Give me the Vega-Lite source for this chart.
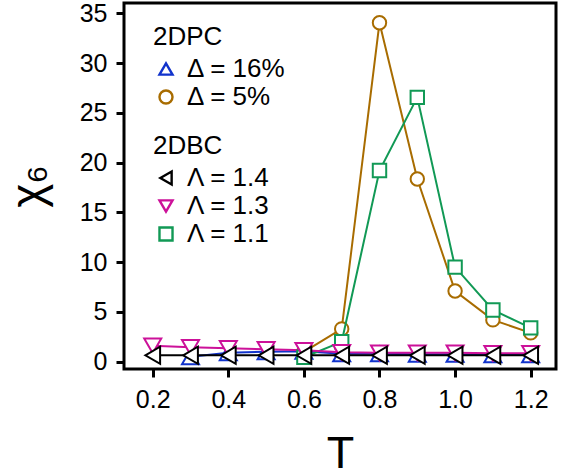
{
  "$schema": "https://vega.github.io/schema/vega-lite/v6.json",
  "autosize": "none",
  "width": 432,
  "height": 366,
  "padding": {"left": 124, "top": 3, "right": 7, "bottom": 107},
  "background": "white",
  "config": {
    "view": {"stroke": "black", "strokeWidth": 3},
    "font": "Liberation Sans",
    "axis": {
      "domain": false, "grid": false, "ticks": true, "tickColor": "black", "tickWidth": 3, "tickSize": 8,
      "labelFont": "Liberation Sans", "labelFontSize": 25, "labelColor": "black",
      "titleFont": "Liberation Sans", "titleFontWeight": "normal", "titleColor": "black"
    },
    "legend": {
      "titleFont": "Liberation Sans", "titleFontSize": 26, "titleFontWeight": "normal", "titleColor": "black",
      "labelFont": "Liberation Sans", "labelFontSize": 26, "labelColor": "black",
      "symbolStrokeWidth": 2.4, "symbolSize": 170, "symbolFillColor": "white", "rowPadding": 2, "labelOffset": 8, "titlePadding": 6, "padding": 0
    }
  },
  "encoding": {
    "x": {"field": "T", "type": "quantitative", "scale": {"domain": [0.124, 1.267], "nice": false, "zero": false},
      "axis": {"values": [0.2, 0.4, 0.6, 0.8, 1.0, 1.2], "format": ".1f", "title": "T", "titleFontSize": 45, "labelPadding": 10, "titlePadding": 19}},
    "y": {"field": "v", "type": "quantitative", "scale": {"domain": [-0.73, 36.03], "nice": false, "zero": false},
      "axis": {"values": [0, 5, 10, 15, 20, 25, 30, 35], "title": "χ₆", "titleFontSize": 46, "labelPadding": 9, "titlePadding": 27}}
  },
  "layer": [
    {
      "data": {"values": [
        {"T": 0.3, "v": 0.5, "s": "Δ = 16%"}, {"T": 0.4, "v": 0.9, "s": "Δ = 16%"}, {"T": 0.5, "v": 1.0, "s": "Δ = 16%"},
        {"T": 0.6, "v": 1.05, "s": "Δ = 16%"}, {"T": 0.7, "v": 0.8, "s": "Δ = 16%"}, {"T": 0.8, "v": 0.8, "s": "Δ = 16%"},
        {"T": 0.9, "v": 0.75, "s": "Δ = 16%"}, {"T": 1.0, "v": 0.75, "s": "Δ = 16%"}, {"T": 1.1, "v": 0.7, "s": "Δ = 16%"},
        {"T": 1.2, "v": 0.7, "s": "Δ = 16%"},
        {"T": 0.6, "v": 1.0, "s": "Δ = 5%"}, {"T": 0.7, "v": 3.3, "s": "Δ = 5%"}, {"T": 0.8, "v": 34.05, "s": "Δ = 5%"},
        {"T": 0.9, "v": 18.35, "s": "Δ = 5%"}, {"T": 1.0, "v": 7.1, "s": "Δ = 5%"}, {"T": 1.1, "v": 4.2, "s": "Δ = 5%"},
        {"T": 1.2, "v": 2.9, "s": "Δ = 5%"}
      ]},
      "encoding": {
        "stroke": {"field": "s", "type": "nominal", "scale": {"domain": ["Δ = 16%", "Δ = 5%"], "range": ["#1133cc", "#a86c00"]},
          "legend": {"title": "2DPC", "orient": "none", "legendX": 29, "legendY": 21}}
      },
      "layer": [
        {"mark": {"type": "line", "strokeWidth": 2}},
        {"transform": [{"filter": "datum.s === 'Δ = 16%'"}],
         "mark": {"type": "point", "filled": false, "fill": "white", "fillOpacity": 1, "strokeWidth": 2, "opacity": 1, "size": 290},
         "encoding": {
           "shape": {"field": "s", "type": "nominal", "scale": {"domain": ["Δ = 16%", "Δ = 5%"], "range": ["triangle-up", "circle"]},
             "legend": {"title": "2DPC", "orient": "none", "legendX": 29, "legendY": 21}}
         }},
        {"transform": [{"filter": "datum.s === 'Δ = 5%'"}],
         "mark": {"type": "point", "filled": false, "fill": "white", "fillOpacity": 1, "strokeWidth": 2, "opacity": 1, "size": 180},
         "encoding": {
           "shape": {"field": "s", "type": "nominal", "scale": {"domain": ["Δ = 16%", "Δ = 5%"], "range": ["triangle-up", "circle"]},
             "legend": {"title": "2DPC", "orient": "none", "legendX": 29, "legendY": 21}}
         }}
      ]
    },
    {
      "data": {"values": [
        {"T": 0.6, "v": 0.45, "s": "Λ = 1.1"}, {"T": 0.7, "v": 2.0, "s": "Λ = 1.1"}, {"T": 0.8, "v": 19.2, "s": "Λ = 1.1"},
        {"T": 0.9, "v": 26.55, "s": "Λ = 1.1"}, {"T": 1.0, "v": 9.5, "s": "Λ = 1.1"}, {"T": 1.1, "v": 5.2, "s": "Λ = 1.1"},
        {"T": 1.2, "v": 3.4, "s": "Λ = 1.1"},
        {"T": 0.2, "v": 1.6, "s": "Λ = 1.3"}, {"T": 0.3, "v": 1.45, "s": "Λ = 1.3"}, {"T": 0.4, "v": 1.35, "s": "Λ = 1.3"},
        {"T": 0.5, "v": 1.25, "s": "Λ = 1.3"}, {"T": 0.6, "v": 1.15, "s": "Λ = 1.3"}, {"T": 0.7, "v": 0.95, "s": "Λ = 1.3"},
        {"T": 0.8, "v": 0.9, "s": "Λ = 1.3"}, {"T": 0.9, "v": 0.9, "s": "Λ = 1.3"}, {"T": 1.0, "v": 0.9, "s": "Λ = 1.3"},
        {"T": 1.1, "v": 0.85, "s": "Λ = 1.3"}, {"T": 1.2, "v": 0.85, "s": "Λ = 1.3"},
        {"T": 0.2, "v": 0.65, "s": "Λ = 1.4"}, {"T": 0.3, "v": 0.65, "s": "Λ = 1.4"}, {"T": 0.4, "v": 0.65, "s": "Λ = 1.4"},
        {"T": 0.5, "v": 0.65, "s": "Λ = 1.4"}, {"T": 0.6, "v": 0.65, "s": "Λ = 1.4"}, {"T": 0.7, "v": 0.65, "s": "Λ = 1.4"},
        {"T": 0.8, "v": 0.65, "s": "Λ = 1.4"}, {"T": 0.9, "v": 0.65, "s": "Λ = 1.4"}, {"T": 1.0, "v": 0.65, "s": "Λ = 1.4"},
        {"T": 1.1, "v": 0.65, "s": "Λ = 1.4"}, {"T": 1.2, "v": 0.65, "s": "Λ = 1.4"}
      ]},
      "encoding": {
        "stroke": {"field": "s", "type": "nominal", "scale": {"domain": ["Λ = 1.4", "Λ = 1.3", "Λ = 1.1"], "range": ["#000000", "#cc1199", "#119955"]},
          "legend": {"title": "2DBC", "orient": "none", "legendX": 29, "legendY": 130}}
      },
      "layer": [
        {"mark": {"type": "line", "strokeWidth": 2}},
        {"transform": [{"filter": "datum.s === 'Λ = 1.1'"}],
         "mark": {"type": "point", "filled": false, "fill": "white", "fillOpacity": 1, "strokeWidth": 2, "opacity": 1, "size": 180},
         "encoding": {
           "shape": {"field": "s", "type": "nominal", "scale": {"domain": ["Λ = 1.4", "Λ = 1.3", "Λ = 1.1"], "range": ["triangle-left", "triangle-down", "square"]},
             "legend": {"title": "2DBC", "orient": "none", "legendX": 29, "legendY": 130}}
         }},
        {"transform": [{"filter": "datum.s !== 'Λ = 1.1'"}],
         "mark": {"type": "point", "filled": false, "fill": "white", "fillOpacity": 1, "strokeWidth": 2, "opacity": 1, "size": 290},
         "encoding": {
           "shape": {"field": "s", "type": "nominal", "scale": {"domain": ["Λ = 1.4", "Λ = 1.3", "Λ = 1.1"], "range": ["triangle-left", "triangle-down", "square"]},
             "legend": {"title": "2DBC", "orient": "none", "legendX": 29, "legendY": 130}}
         }}
      ]
    }
  ],
  "resolve": {"scale": {"stroke": "independent", "shape": "independent"}}
}
